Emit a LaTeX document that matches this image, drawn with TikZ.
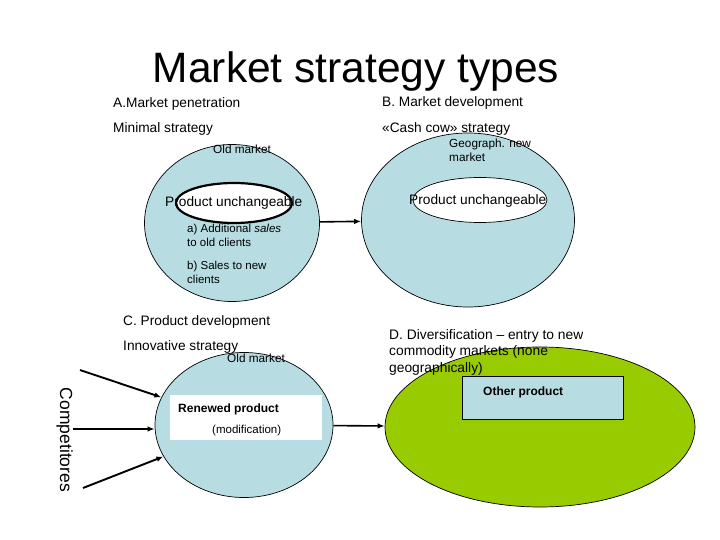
\documentclass[tikz,border=0pt]{standalone}
\usepackage{fontspec}
\setmainfont{Liberation Sans}
\usetikzlibrary{shapes.geometric,arrows.meta}
\definecolor{lblue}{RGB}{183,221,226}
\definecolor{lgreen}{RGB}{153,204,0}
\begin{document}
\begin{tikzpicture}[x=1pt,y=-1pt,
  market/.style={ellipse, draw=black, line width=0.7pt, fill=lblue, inner sep=0pt},
  inner/.style={ellipse, draw=black, fill=white, inner sep=0pt},
  lbl/.style={anchor=base west, inner sep=0pt, font=\fontsize{13.7}{16.5}\selectfont},
  small/.style={anchor=base west, inner sep=0pt, font=\fontsize{11.8}{14}\selectfont},
  ml/.style={anchor=north west, inner sep=0pt, align=left},
  arr/.style={-{Latex[length=7pt,width=5.5pt]}, line width=1.6pt},
  carr/.style={-{Latex[length=7pt,width=5.5pt]}, line width=1.9pt}
]
\useasboundingbox (0,0) rectangle (720,540);

% Title
\node[anchor=base, inner sep=0pt, font=\fontsize{42.5}{50}\selectfont] (title) at (356,83) {Market strategy types};

% A
\node[market, minimum width=175pt, minimum height=157pt] (A) at (232,223) {};
\node[inner, line width=2.2pt, minimum width=116pt, minimum height=40pt] (Ain) at (234,203) {};
\node[lbl] (atitle) at (113,108) {A.Market penetration};
\node[lbl] (astrat) at (113,133) {Minimal strategy};
\node[small] (aold) at (213,154) {Old market};
\node[lbl] (aprod) at (165,207) {Product unchangeable};
\node[ml, font=\fontsize{11.5}{14}\selectfont] (asales) at (187,224) {a) Additional \textit{sales}\\to old clients};
\node[ml, font=\fontsize{11.5}{14}\selectfont] (bsales) at (187,261) {b) Sales to new\\clients};

% B
\node[market, minimum width=213pt, minimum height=174pt] (B) at (468,220) {};
\node[inner, line width=0.7pt, minimum width=134pt, minimum height=45pt] (Bin) at (480,200) {};
\node[lbl] (btitle) at (382,107) {B. Market development};
\node[lbl] (bstrat) at (382,133) {«Cash cow» strategy};
\node[ml, font=\fontsize{11.8}{13.5}\selectfont] (bgeo) at (449,139) {Geograph. new\\market};
\node[lbl] (bprod) at (409,205) {Product unchangeable};

% C
\node[market, minimum width=178pt, minimum height=145pt] (C) at (244,425) {};
\node[fill=white, inner sep=0pt, minimum width=152pt, minimum height=45pt] (Crect) at (246,417.5) {};
\node[lbl] (ctitle) at (123,325) {C. Product development};
\node[lbl] (cstrat) at (123,350) {Innovative strategy};
\node[small] (cold) at (227,362) {Old market};
\node[anchor=base west, inner sep=0pt, font=\bfseries\fontsize{12}{14}\selectfont] (cren) at (178,412) {Renewed product};
\node[anchor=base west, inner sep=0pt, font=\fontsize{11.5}{14}\selectfont] (cmod) at (212,433) {(modification)};

% D
\node[ellipse, draw=black, line width=0.7pt, fill=lgreen, inner sep=0pt, minimum width=310pt, minimum height=160pt] (D) at (540,427) {};
\node[draw=black, line width=0.7pt, fill=lblue, inner sep=0pt, minimum width=161pt, minimum height=43pt] (Drect) at (542.5,397.5) {};
\node[ml, font=\fontsize{13.8}{16.5}\selectfont] (dtitle) at (389,329) {D. Diversification -- entry to new\\commodity markets (none\\geographically)};
\node[anchor=base west, inner sep=0pt, font=\bfseries\fontsize{12}{14}\selectfont] (dprod) at (483,395) {Other product};

% Competitors
\node[rotate=-90, anchor=base, inner sep=0pt, font=\fontsize{17.5}{20}\selectfont] (comp) at (60,440) {Competitores};
\coordinate (c1) at (80,370);
\coordinate (c2) at (73,429);
\coordinate (c3) at (83,488);

% Connectors
\draw[arr] (A) -- (B);
\draw[arr] (C) -- (D);
\draw[carr] (c1) -- (C);
\draw[carr] (c2) -- (c2 -| C.west);
\draw[carr] (c3) -- (C);
\end{tikzpicture}
\end{document}
